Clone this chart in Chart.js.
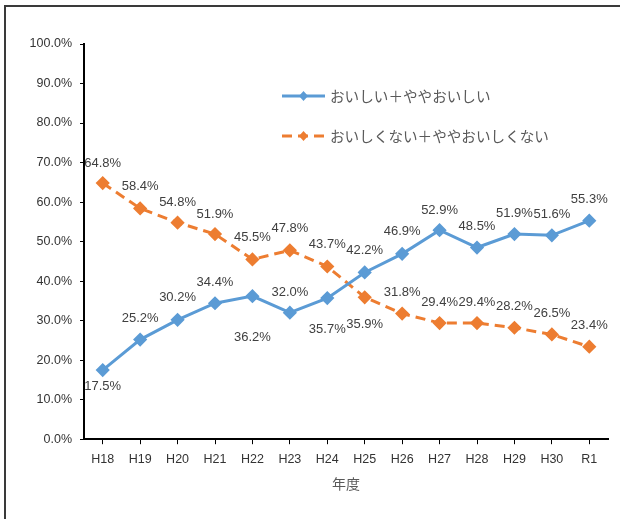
<!DOCTYPE html>
<html>
<head>
<meta charset="utf-8">
<script src="https://cdn.jsdelivr.net/npm/chart.js@4.4.0/dist/chart.umd.min.js"></script>
<style>
    html, body { margin: 0; padding: 0; background: #fff; overflow: hidden; }
    #wrap { position: relative; width: 620px; height: 519px; }
    #frame {
        position: absolute; left: 4px; top: 5px; width: 700px; height: 600px;
        border: 2px solid #3a3a3a; box-sizing: border-box;
    }
    canvas { position: absolute; left: 0; top: 0; }
</style>
</head>
<body>
<div id="wrap">
    <div id="frame"></div>
    <canvas id="chart" width="620" height="519"></canvas>
</div>
<script>
// Chart data
const years = ['H18', 'H19', 'H20', 'H21', 'H22', 'H23', 'H24', 'H25', 'H26', 'H27', 'H28', 'H29', 'H30', 'R1'];
const tasty = [17.5, 25.2, 30.2, 34.4, 36.2, 32.0, 35.7, 42.2, 46.9, 52.9, 48.5, 51.9, 51.6, 55.3];
const notTasty = [64.8, 58.4, 54.8, 51.9, 45.5, 47.8, 43.7, 35.9, 31.8, 29.4, 29.4, 28.2, 26.5, 23.4];
const seriesNames = ['おいしい＋ややおいしい', 'おいしくない＋ややおいしくない'];
const axisTitle = '年度';

const BLUE = '#5B9BD5';
const ORANGE = '#ED7D31';
const TEXT = '#404040';
const LABEL_FONT = '"Liberation Sans", sans-serif';

/**
 * Draws the value labels next to each point.
 * Offsets are per point, like the hand-placed labels of the original.
 */
const valueLabels = {
    id: 'valueLabels',
    afterDatasetsDraw(chart, args, opts) {
        const ctx = chart.ctx;
        ctx.save();
        ctx.font = '13px ' + LABEL_FONT;
        ctx.fillStyle = TEXT;
        ctx.textAlign = 'center';
        ctx.textBaseline = 'middle';
        chart.data.datasets.forEach((ds, i) => {
            const meta = chart.getDatasetMeta(i);
            const dy = opts.dy[i];
            meta.data.forEach((pt, j) => {
                ctx.fillText(ds.data[j].toFixed(1) + '%', pt.x, pt.y + dy[j]);
            });
        });
        ctx.restore();
    }
};

/**
 * Draws the legend inside the plot, as in the original
 */
const insideLegend = {
    id: 'insideLegend',
    afterDraw(chart, args, opts) {
        const ctx = chart.ctx;
        ctx.save();
        chart.data.datasets.forEach((ds, i) => {
            const x = opts.x;
            const y = opts.y + i * opts.gap;
            ctx.strokeStyle = ds.borderColor;
            ctx.lineWidth = 3;
            ctx.setLineDash(ds.borderDash || []);
            ctx.beginPath();
            ctx.moveTo(x, y);
            ctx.lineTo(x + 43, y);
            ctx.stroke();
            ctx.setLineDash([]);
            ctx.fillStyle = ds.borderColor;
            ctx.beginPath();
            ctx.moveTo(x + 21.5, y - 5);
            ctx.lineTo(x + 26, y);
            ctx.lineTo(x + 21.5, y + 5);
            ctx.lineTo(x + 17, y);
            ctx.closePath();
            ctx.fill();
            ctx.fillStyle = '#595959';
            ctx.font = '14.6px "Noto Sans CJK JP", sans-serif';
            ctx.textBaseline = 'middle';
            ctx.fillText(ds.label, x + 48, y);
        });
        ctx.restore();
    }
};

const ctx = document.getElementById('chart').getContext('2d');
const chart = new Chart(ctx, {
    type: 'line',
    data: {
        labels: years,
        datasets: [
            {
                label: seriesNames[0],
                data: tasty,
                borderColor: BLUE,
                backgroundColor: BLUE,
                borderWidth: 3,
                pointStyle: 'rectRot',
                pointRadius: 5,
                pointHoverRadius: 5,
                tension: 0
            },
            {
                label: seriesNames[1],
                data: notTasty,
                borderColor: ORANGE,
                backgroundColor: ORANGE,
                borderWidth: 3,
                borderDash: [10, 6],
                pointStyle: 'rectRot',
                pointRadius: 5,
                pointHoverRadius: 5,
                tension: 0
            }
        ]
    },
    options: {
        responsive: false,
        animation: false,
        events: [],
        layout: { padding: { left: 0, right: 12, top: 44, bottom: 27 } },
        plugins: {
            legend: { display: false },
            tooltip: { enabled: false },
            valueLabels: {
                dy: [
                    [16, -21, -22, -21, 41, -20, 31, -22, -22, -20, -21, -21, -21, -21],
                    [-20, -22, -20, -20, -22, -22, -22, 27, -21, -21, -21, -21, -21, -21]
                ]
            },
            insideLegend: { x: 282, y: 96, gap: 40 }
        },
        scales: {
            x: {
                offset: true,
                grid: { drawOnChartArea: false, drawTicks: true, tickLength: 5, color: '#000' },
                border: { color: '#000', width: 2 },
                ticks: { color: '#333', font: { size: 12.5, family: LABEL_FONT }, padding: 8, maxRotation: 0 },
                title: {
                    display: true, text: axisTitle, color: '#595959',
                    font: { size: 14, family: '"Noto Sans CJK JP", sans-serif' },
                    padding: { top: 0, bottom: 0 }
                }
            },
            y: {
                min: 0,
                max: 100,
                ticks: {
                    stepSize: 10,
                    color: '#333',
                    font: { size: 12.5, family: LABEL_FONT },
                    padding: 8,
                    callback: v => v.toFixed(1) + '%'
                },
                grid: { drawOnChartArea: false, drawTicks: true, tickLength: 4, color: '#000' },
                border: { color: '#000', width: 2 },
                afterFit(scale) { scale.width = 84; }
            }
        }
    },
    plugins: [valueLabels, insideLegend]
});
</script>
</body>
</html>
